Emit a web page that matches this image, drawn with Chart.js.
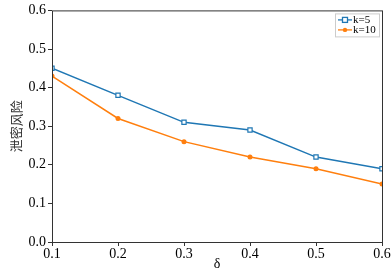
<!DOCTYPE html>
<html>
<head>
<meta charset="utf-8">
<script src="https://cdn.jsdelivr.net/npm/chart.js@4"></script>
<style>
  html, body { margin: 0; padding: 0; background: #fff; }
  #wrap { width: 392px; height: 273px; }
</style>
</head>
<body>
<div id="wrap"><canvas id="riskChart"></canvas></div>
<script>
// data
const deltas = [0.1, 0.2, 0.3, 0.4, 0.5, 0.6];
const k5Values = [0.45, 0.38, 0.31, 0.29, 0.22, 0.19];
const k10Values = [0.43, 0.32, 0.26, 0.22, 0.19, 0.15];
const seriesNames = ['k=5', 'k=10'];
const xTitle = 'δ';
const yTitle = '泄密风险';

const blue = '#1f77b4';
const orange = '#ff7f0e';
const serif = "'Liberation Serif', 'Times New Roman', serif";

const toPoints = (vals) => deltas.map((d, i) => ({ x: d, y: vals[i] }));

// frame around the plot + legend in the upper right corner
const framePlugin = {
  id: 'frame',
  afterDraw(chart) {
    const { ctx, chartArea: a } = chart;
    ctx.save();
    ctx.strokeStyle = '#333';
    ctx.lineWidth = 1;
    ctx.strokeRect(a.left + 0.5, a.top + 0.5, a.right - a.left, a.bottom - a.top);

    // legend box
    const bx = a.right - 47, by = a.top + 3, bw = 44, bh = 23;
    ctx.fillStyle = '#fff';
    ctx.strokeStyle = '#ccc';
    ctx.fillRect(bx, by, bw, bh);
    ctx.strokeRect(bx + 0.5, by + 0.5, bw, bh);
    ctx.font = '11px ' + serif;
    ctx.textBaseline = 'middle';
    chart.data.datasets.forEach((ds, i) => {
      const y = by + 6.5 + i * 10;
      ctx.strokeStyle = ds.borderColor;
      ctx.lineWidth = 1.3;
      ctx.beginPath();
      ctx.moveTo(bx + 3, y);
      ctx.lineTo(bx + 17, y);
      ctx.stroke();
      if (i === 0) {
        ctx.fillStyle = '#fff';
        ctx.fillRect(bx + 7.5, y - 2.5, 5, 5);
        ctx.strokeRect(bx + 7.5, y - 2.5, 5, 5);
      } else {
        ctx.fillStyle = ds.borderColor;
        ctx.beginPath();
        ctx.arc(bx + 10, y, 2.2, 0, Math.PI * 2);
        ctx.fill();
      }
      ctx.fillStyle = '#000';
      ctx.fillText(seriesNames[i], bx + 18, y + 0.5);
    });
    ctx.restore();
  }
};

const ctx = document.getElementById('riskChart');
const riskChart = new Chart(ctx, {
  type: 'line',
  data: {
    datasets: [{
      label: seriesNames[0],
      data: toPoints(k5Values),
      borderColor: blue,
      backgroundColor: '#fff',
      borderWidth: 1.5,
      pointStyle: 'rect',
      pointRadius: 3,
      pointBorderWidth: 1.2,
      tension: 0,
    }, {
      label: seriesNames[1],
      data: toPoints(k10Values),
      borderColor: orange,
      backgroundColor: orange,
      borderWidth: 1.5,
      pointStyle: 'circle',
      pointRadius: 2.5,
      pointBorderWidth: 0,
      tension: 0,
    }]
  },
  options: {
    animation: false,
    responsive: true,
    maintainAspectRatio: false,
    layout: { padding: { top: 10, right: 10, left: 0, bottom: 0 } },
    plugins: { legend: { display: false }, tooltip: { enabled: false } },
    scales: {
      x: {
        type: 'linear',
        min: 0.1, max: 0.6,
        afterFit: (s) => { s.height = 31; },
        grid: { drawOnChartArea: false, drawTicks: true, tickLength: 4, color: '#333' },
        border: { display: false },
        ticks: {
          stepSize: 0.1, color: '#000', padding: 0,
          font: { family: serif, size: 14 },
          callback: (v) => v.toFixed(1)
        },
        title: { display: true, text: xTitle, color: '#000', padding: 0, font: { family: serif, size: 14 } }
      },
      y: {
        min: 0, max: 0.6,
        afterFit: (s) => { s.width = 52; },
        grid: { drawOnChartArea: false, drawTicks: true, tickLength: 4, color: '#333' },
        border: { display: false },
        ticks: {
          stepSize: 0.1, color: '#000', padding: 2,
          font: { family: serif, size: 14 },
          callback: (v) => v.toFixed(1)
        },
        title: { display: true, text: yTitle, color: '#333', padding: { top: 8, bottom: 0 }, font: { family: "'Noto Sans CJK SC', sans-serif", size: 13 } }
      }
    }
  },
  plugins: [framePlugin]
});
</script>
</body>
</html>
